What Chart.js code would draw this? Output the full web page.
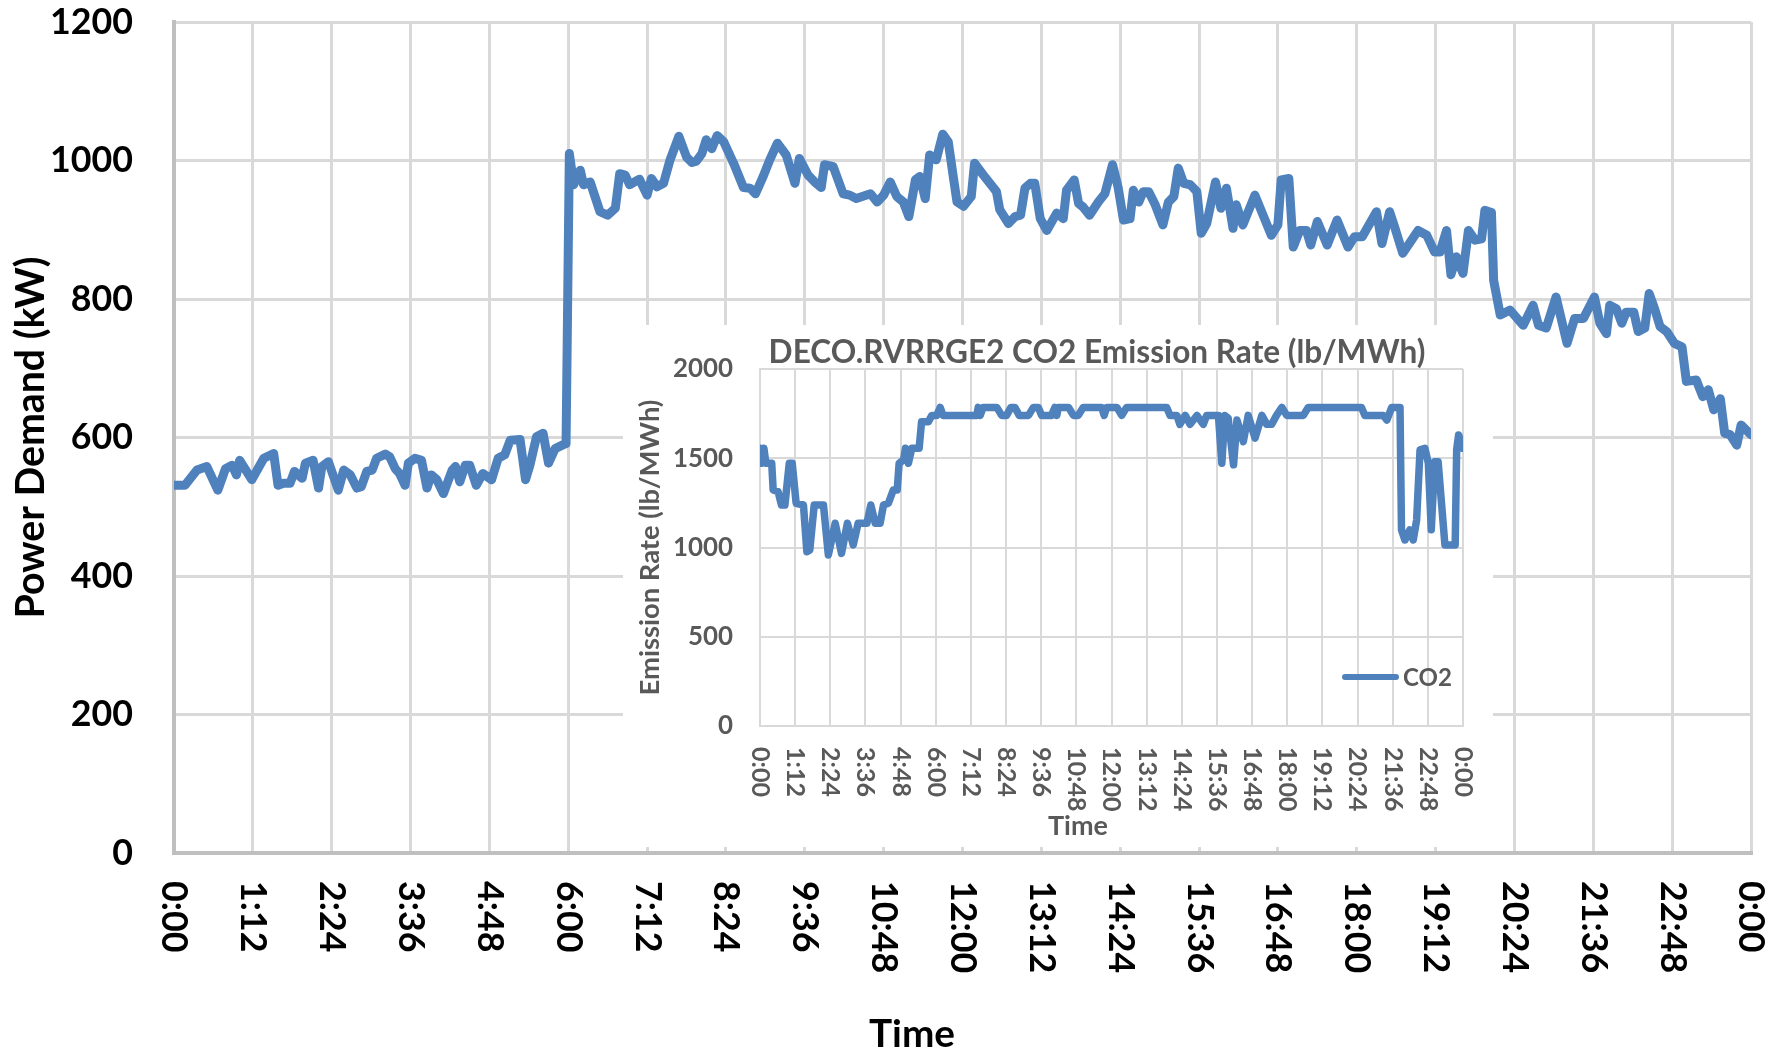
<!DOCTYPE html>
<html><head><meta charset="utf-8">
<script src="https://cdn.jsdelivr.net/npm/chart.js@4.4.1/dist/chart.umd.min.js"></script>
<style>
html,body{margin:0;padding:0;background:#fff;}
#wrap{position:relative;width:1783px;height:1051px;overflow:hidden;background:#fff;}
#main{position:absolute;left:0;top:0;}
#insetBox{position:absolute;left:623px;top:325px;width:870px;height:522px;background:#fff;}
#inset{position:absolute;left:0;top:0;}
</style></head><body>
<div id="wrap">
<canvas id="main" width="1783" height="1051"></canvas>
<div id="insetBox"><canvas id="inset" width="870" height="522"></canvas></div>
</div>
<script>
// ---------- data ----------
const timeTickLabels = ['0:00','1:12','2:24','3:36','4:48','6:00','7:12','8:24','9:36','10:48','12:00','13:12','14:24','15:36','16:48','18:00','19:12','20:24','21:36','22:48','0:00'];

// minutes after midnight
const demandTime = [0,10,21,30,40,47,53,57,60,71,82,91,95,100,106,110,117,120,127,132,
135,141,150,155,161,167,171,176,181,185,193,197,202,206,211,214,220,226,231,235,
240,246,254,257,261,266,270,276,282,290,296,302,307,316,321,325,331,337,342,348,
356,358,361,365,371,374,380,389,396,403,407,412,416,425,432,436,441,447,453,461,
468,473,477,482,486,491,496,502,511,520,526,531,538,544,551,559,567,571,579,585,
591,594,602,611,617,623,636,642,648,654,660,666,671,677,681,686,690,696,702,707,
712,715,721,728,731,739,751,754,762,768,773,777,782,786,791,797,806,812,815,822,
826,830,836,844,850,857,862,867,873,876,881,885,890,896,903,908,913,917,922,928,
934,938,943,951,956,961,967,970,976,987,995,1002,1008,1011,1018,1022,1028,1034,1038,1044,
1053,1062,1072,1078,1085,1098,1103,1110,1115,1122,1136,1144,1151,1156,1162,1166,1171,1177,1182,1188,
1194,1197,1203,1205,1211,1220,1232,1241,1246,1253,1262,1272,1279,1287,1297,1302,1308,1311,1317,1322,
1326,1333,1337,1343,1347,1352,1357,1363,1370,1377,1381,1390,1396,1401,1406,1412,1416,1421,1427,1431,1440];
// kW
const demandKW = [531,531,553,558,524,555,560,546,567,539,570,577,531,534,534,551,541,563,567,527,
558,565,524,553,546,527,529,551,553,570,576,572,555,548,531,563,570,567,527,546,
539,519,553,558,536,560,560,531,548,539,570,575,596,597,539,560,601,606,563,584,
590,591,1010,965,986,965,969,926,921,931,981,979,965,973,950,974,962,967,1001,1035,
1005,997,999,1010,1030,1017,1036,1027,996,961,960,952,977,1001,1025,1008,967,1003,979,969,
961,994,991,952,950,945,952,940,950,969,948,940,919,972,977,945,1008,1001,1038,1027,
972,940,934,948,996,979,955,929,909,919,921,960,967,967,916,899,924,916,957,972,
938,933,921,940,952,994,962,914,916,957,940,955,955,936,907,940,948,989,967,965,
955,895,909,969,931,960,902,936,907,950,919,892,907,972,974,875,899,899,878,912,
878,914,875,890,890,926,880,926,902,866,899,892,868,868,899,835,861,837,899,885,
887,928,925,827,777,784,762,791,762,758,803,736,772,772,803,765,750,791,786,765,
781,781,753,758,808,786,760,753,736,731,681,683,659,669,640,656,606,604,589,618,604];

const co2Time = [0,4,8,12,24,27,37,44,51,60,66,74,89,96,102,111,130,140,154,167,
179,191,201,219,227,236,246,253,263,273,281,285,294,298,304,311,326,331,345,352,
362,369,375,444,447,451,457,485,495,505,514,522,531,550,560,570,577,597,604,608,
611,632,642,652,662,700,705,710,731,741,751,833,840,854,860,871,881,895,908,915,
939,946,952,959,970,977,990,1000,1014,1028,1038,1048,1058,1069,1079,1113,1123,1232,1239,1277,
1284,1294,1311,1314,1321,1331,1338,1345,1352,1362,1369,1375,1382,1389,1396,1403,1410,1424,1427,1431,1440];
// lb/MWh
const co2Rate = [1556,1472,1556,1472,1472,1322,1313,1238,1238,1472,1472,1248,1238,976,986,1238,1238,958,1136,967,
1136,1014,1136,1136,1238,1136,1136,1238,1248,1322,1322,1472,1490,1556,1472,1556,1556,1705,1705,1740,
1740,1785,1740,1740,1785,1740,1785,1785,1740,1740,1785,1785,1740,1740,1785,1785,1740,1740,1785,1740,
1785,1785,1740,1740,1785,1785,1740,1785,1785,1740,1785,1785,1740,1740,1690,1740,1690,1740,1690,1740,
1740,1472,1740,1725,1463,1714,1593,1740,1612,1740,1690,1690,1740,1785,1740,1740,1785,1785,1740,1740,
1714,1785,1785,1099,1042,1099,1042,1154,1547,1556,1472,1099,1481,1481,1248,1014,1014,1014,1547,1630,1556];

const mainTitleX = 'Time';
const mainTitleY = 'Power Demand (kW)';
const insetTitle = 'DECO.RVRRGE2 CO2 Emission Rate (lb/MWh)';
const insetTitleX = 'Time';
const insetTitleY = 'Emission Rate (lb/MWh)';
const insetSeries = 'CO2';

// ---------- styling ----------
const FAMILY = 'Lato, "Liberation Sans", Arial, sans-serif';
const BLUE = '#4f81bd';
const measureCtx = document.createElement('canvas').getContext('2d');
function fitSize(text, target) {
  measureCtx.font = 'bold 100px ' + FAMILY;
  return 100 * target / measureCtx.measureText(text).width;
}
const mainTick = fitSize('1200', 83);
const mainYTitle = fitSize(mainTitleY, 362);
const mainXTitle = fitSize(mainTitleX, 86);
const inTitle = fitSize(insetTitle, 657);
const inTick = fitSize('2000', 60);
const inYTitle = fitSize(insetTitleY, 296);
const inXTitle = fitSize(insetTitleX, 60);
const inLegend = fitSize(insetSeries, 49);

function toPoints(xs, ys) { return xs.map((t, i) => ({x: t, y: ys[i]})); }
const plainNum = v => String(v);
function fixY(width) {
  return s => { s.width = width; s.paddingTop = 0; s.paddingBottom = 0; };
}

function xLabelsPlugin(o) {
  return {
    id: 'xlabels_' + o.key,
    afterDraw(chart) {
      const ctx = chart.ctx, xs = chart.scales.x, area = chart.chartArea;
      ctx.save();
      ctx.fillStyle = o.color;
      ctx.font = 'bold ' + o.size + 'px ' + FAMILY;
      ctx.textAlign = 'left';
      ctx.textBaseline = 'middle';
      xs.ticks.forEach((t, i) => {
        const px = xs.getPixelForValue(t.value);
        ctx.save();
        ctx.translate(px, area.bottom + o.gap);
        ctx.rotate(Math.PI / 2);
        ctx.fillText(timeTickLabels[i], 0, 0);
        ctx.restore();
      });
      ctx.font = 'bold ' + o.titleSize + 'px ' + FAMILY;
      ctx.textAlign = 'center';
      ctx.textBaseline = 'alphabetic';
      ctx.fillText(o.title, o.titleX, o.titleY);
      if (o.extra) o.extra(ctx, chart);
      ctx.restore();
    }
  };
}

// ---------- main chart ----------
new Chart(document.getElementById('main'), {
  type: 'line',
  data: { datasets: [{
    label: 'Power Demand',
    data: toPoints(demandTime, demandKW),
    borderColor: BLUE, backgroundColor: BLUE, borderWidth: 9,
    pointRadius: 0, tension: 0, fill: false,
    borderJoinStyle: 'round', borderCapStyle: 'round'
  }]},
  options: {
    responsive: false, animation: false, devicePixelRatio: 1,
    layout: { autoPadding: false, padding: { top: 22, right: 32, left: 0, bottom: 0 } },
    plugins: { legend: { display: false }, tooltip: { enabled: false } },
    scales: {
      x: {
        type: 'linear', min: 0, max: 1440,
        ticks: { stepSize: 72, display: false, maxTicksLimit: 100 },
        grid: { color: '#d9d9d9', lineWidth: 3, drawTicks: false },
        border: { color: '#bfbfbf', width: 4 },
        afterFit: s => { s.height = 198; s.paddingLeft = 0; s.paddingRight = 0; }
      },
      y: {
        min: 0, max: 1200,
        ticks: { stepSize: 200, padding: 41, color: '#000', callback: plainNum,
          font: { family: FAMILY, weight: 'bold', size: mainTick, lineHeight: 1 } },
        grid: { color: '#d9d9d9', lineWidth: 3, drawTicks: false },
        border: { color: '#bfbfbf', width: 4 },
        title: { display: true, text: mainTitleY, color: '#000',
          font: { family: FAMILY, weight: 'bold', size: mainYTitle, lineHeight: 1.2 },
          padding: { top: 31 - mainYTitle * 0.6, bottom: 0 } },
        afterFit: fixY(174)
      }
    }
  },
  plugins: [xLabelsPlugin({ key: 'main', color: '#000', size: mainTick, gap: 28,
    title: mainTitleX, titleSize: mainXTitle, titleX: 912, titleY: 1047 })]
});

// ---------- inset chart ----------
new Chart(document.getElementById('inset'), {
  type: 'line',
  data: { datasets: [{
    label: insetSeries,
    data: toPoints(co2Time, co2Rate),
    borderColor: BLUE, backgroundColor: BLUE, borderWidth: 7.5,
    pointRadius: 0, tension: 0, fill: false,
    borderJoinStyle: 'round', borderCapStyle: 'round'
  }]},
  options: {
    responsive: false, animation: false, devicePixelRatio: 1,
    layout: { autoPadding: false, padding: { top: 44, right: 30, left: 0, bottom: 0 } },
    plugins: { legend: { display: false }, tooltip: { enabled: false } },
    scales: {
      x: {
        type: 'linear', min: 0, max: 1440,
        ticks: { stepSize: 72, display: false, maxTicksLimit: 100 },
        grid: { color: '#d9d9d9', lineWidth: 2, drawTicks: false },
        border: { color: '#d9d9d9', width: 2 },
        afterFit: s => { s.height = 121; s.paddingLeft = 0; s.paddingRight = 0; }
      },
      y: {
        min: 0, max: 2000,
        ticks: { stepSize: 500, padding: 27, color: '#595959', callback: plainNum,
          font: { family: FAMILY, weight: 'bold', size: inTick, lineHeight: 1 } },
        grid: { color: '#d9d9d9', lineWidth: 2, drawTicks: false },
        border: { color: '#d9d9d9', width: 2 },
        title: { display: true, text: insetTitleY, color: '#595959',
          font: { family: FAMILY, weight: 'bold', size: inYTitle, lineHeight: 1.2 },
          padding: { top: 27 - inYTitle * 0.6, bottom: 0 } },
        afterFit: fixY(137)
      }
    }
  },
  plugins: [xLabelsPlugin({ key: 'inset', color: '#595959', size: fitSize('0:00', 50) , gap: 21,
    title: insetTitleX, titleSize: inXTitle, titleX: 455, titleY: 510,
    extra: (ctx, chart) => {
      // chart title
      ctx.font = 'bold ' + inTitle + 'px ' + FAMILY;
      ctx.textAlign = 'center';
      ctx.textBaseline = 'alphabetic';
      ctx.fillText(insetTitle, 474, 38);
      // legend
      const ds = chart.data.datasets[0];
      ctx.strokeStyle = ds.borderColor;
      ctx.lineWidth = 6;
      ctx.lineCap = 'round';
      ctx.beginPath(); ctx.moveTo(722, 352); ctx.lineTo(773, 352); ctx.stroke();
      ctx.font = 'bold ' + inLegend + 'px ' + FAMILY;
      ctx.textAlign = 'left';
      ctx.fillText(ds.label, 780, 361);
    } })]
});
</script>
</body></html>
